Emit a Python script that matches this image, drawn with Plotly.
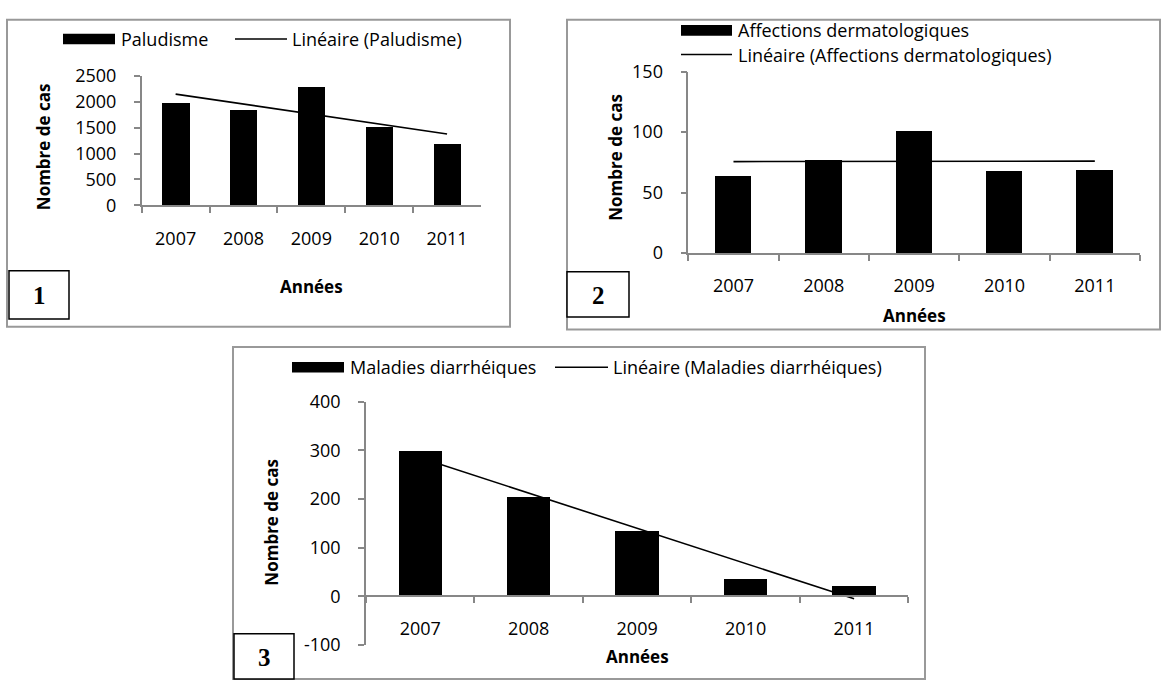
import numpy as np
import plotly.graph_objects as go

W, H = 1161, 691

# Data
years = ["2007", "2008", "2009", "2010", "2011"]
paludisme = [1980, 1850, 2280, 1510, 1190]
dermato = [64, 77, 101, 68, 69]
diarrhee = [300, 205, 135, 37, 22]

# Value-axis ticks
ticks1 = [0, 500, 1000, 1500, 2000, 2500]
ticks2 = [0, 50, 100, 150]
ticks3 = [-100, 0, 100, 200, 300, 400]

FONT = "Open Sans"
AXIS_GREY = "#878787"
FRAME_GREY = "#999999"


def px(x):
    return x / W


def py(y):
    return 1 - y / H


def trend(values):
    idx = np.arange(len(values))
    slope, icpt = np.polyfit(idx, values, 1)
    return list(slope * idx + icpt)


fig = go.Figure()

panels = [
    # (x-axis id, y-axis id, values)
    ("x", "y", paludisme),
    ("x2", "y2", dermato),
    ("x3", "y3", diarrhee),
]
for xa, ya, vals in panels:
    fig.add_trace(go.Bar(x=years, y=vals, xaxis=xa, yaxis=ya, width=0.4,
                         marker=dict(color="black", line=dict(width=0)),
                         showlegend=False, hoverinfo="x+y"))
    fig.add_trace(go.Scatter(x=years, y=trend(vals), xaxis=xa, yaxis=ya,
                             mode="lines", line=dict(color="black", width=1.6),
                             showlegend=False, hoverinfo="skip"))

tickfont = dict(family=FONT, size=18, color="black")
xcommon = dict(type="category", range=[-0.5, 4.5], showline=True,
               linecolor=AXIS_GREY, linewidth=1.5, ticks="outside",
               tickson="boundaries", ticklen=6, tickcolor=AXIS_GREY,
               tickwidth=1.5, tickfont=tickfont, showgrid=False,
               zeroline=False, ticklabelstandoff=16, fixedrange=True)
ycommon = dict(showline=True, linecolor=AXIS_GREY, linewidth=1.5,
               ticks="outside", ticklen=6, tickcolor=AXIS_GREY, tickwidth=1.5,
               tickfont=tickfont, showgrid=False, zeroline=False,
               ticklabelstandoff=14, fixedrange=True)


def labels(vals):
    # plain hyphen for negative numbers
    return [str(v) for v in vals]


fig.update_layout(
    width=W, height=H,
    margin=dict(l=0, r=0, t=0, b=0),
    paper_bgcolor="white", plot_bgcolor="white",
    bargap=0,
    xaxis=dict(domain=[px(141.7), px(481)], anchor="y", **xcommon),
    yaxis=dict(domain=[py(199.3), py(65)], anchor="x", range=[0, 2500],
               tickvals=ticks1, ticktext=labels(ticks1), **ycommon),
    xaxis2=dict(domain=[px(688.3), px(1140)], anchor="y2", **xcommon),
    yaxis2=dict(domain=[py(248.7), py(60.7)], anchor="x2", range=[0, 150],
                tickvals=ticks2, ticktext=labels(ticks2), **ycommon),
    xaxis3=dict(domain=[px(366), px(908.3)], anchor="free",
                position=py(604.3), **xcommon),
    yaxis3=dict(domain=[py(654.7), py(402.7)], anchor="x3", range=[-100, 400],
                tickvals=ticks3, ticktext=labels(ticks3), **ycommon),
)

shapes = []
annotations = []


def rect(x0, y0, x1, y1, color, width, fill="rgba(0,0,0,0)"):
    shapes.append(dict(type="rect", xref="paper", yref="paper",
                       x0=px(x0), x1=px(x1), y0=py(y1), y1=py(y0),
                       line=dict(color=color, width=width), fillcolor=fill))


def text(x, y, s, size=18, xanchor="left", bold=False, angle=0, family=FONT):
    annotations.append(dict(xref="paper", yref="paper", x=px(x), y=py(y),
                            text=s, showarrow=False, xanchor=xanchor,
                            yanchor="middle", textangle=angle, borderpad=0,
                            font=dict(family=family, size=size, color="black",
                                      weight="bold" if bold else "normal")))


def swatch_bar(x0, x1, yc):
    rect(x0, yc - 5.5, x1, yc + 5.5, "black", 0, fill="black")


def swatch_line(x0, x1, yc):
    shapes.append(dict(type="line", xref="paper", yref="paper",
                       x0=px(x0), x1=px(x1), y0=py(yc), y1=py(yc),
                       line=dict(color="black", width=1.6)))


# Chart frames
rect(7, 7, 510, 325, FRAME_GREY, 2)
rect(567, 7, 1160, 328, FRAME_GREY, 2)
rect(233, 346, 925, 690, FRAME_GREY, 2)

# Legends
swatch_bar(63, 115, 27)
text(120, 27, "Paludisme")
swatch_line(235, 287, 27)
text(291, 27, "Linéaire (Paludisme)")

swatch_bar(681, 732, 18)
text(737, 18, "Affections dermatologiques")
swatch_line(681, 732, 43)
text(737, 43, "Linéaire (Affections dermatologiques)")

swatch_bar(292, 344, 367)
text(349, 367, "Maladies diarrhéiques")
swatch_line(555, 608, 367)
text(612, 367, "Linéaire (Maladies diarrhéiques)")

# Axis titles
text(43, 139, "Nombre de cas", size=17, xanchor="center", bold=True, angle=-90)
text(311, 283, "Années", size=17, xanchor="center", bold=True)
text(616, 150, "Nombre de cas", size=17, xanchor="center", bold=True, angle=-90)
text(914, 313, "Années", size=17, xanchor="center", bold=True)
text(272, 528, "Nombre de cas", size=17, xanchor="center", bold=True, angle=-90)
text(637, 667, "Années", size=17, xanchor="center", bold=True)

# Numbered panel boxes
for (x0, y0, x1, y1, label) in [(9, 267, 69, 317, "1"),
                                (567, 268, 629, 315, "2"),
                                (234, 643, 294, 690, "3")]:
    rect(x0, y0, x1, y1, "black", 1.5, fill="white")
    text((x0 + x1) / 2, (y0 + y1) / 2 + 1, label, size=25, xanchor="center",
         bold=True, family="Liberation Serif")

fig.update_layout(shapes=shapes, annotations=annotations)

fig.write_html("out.html")
